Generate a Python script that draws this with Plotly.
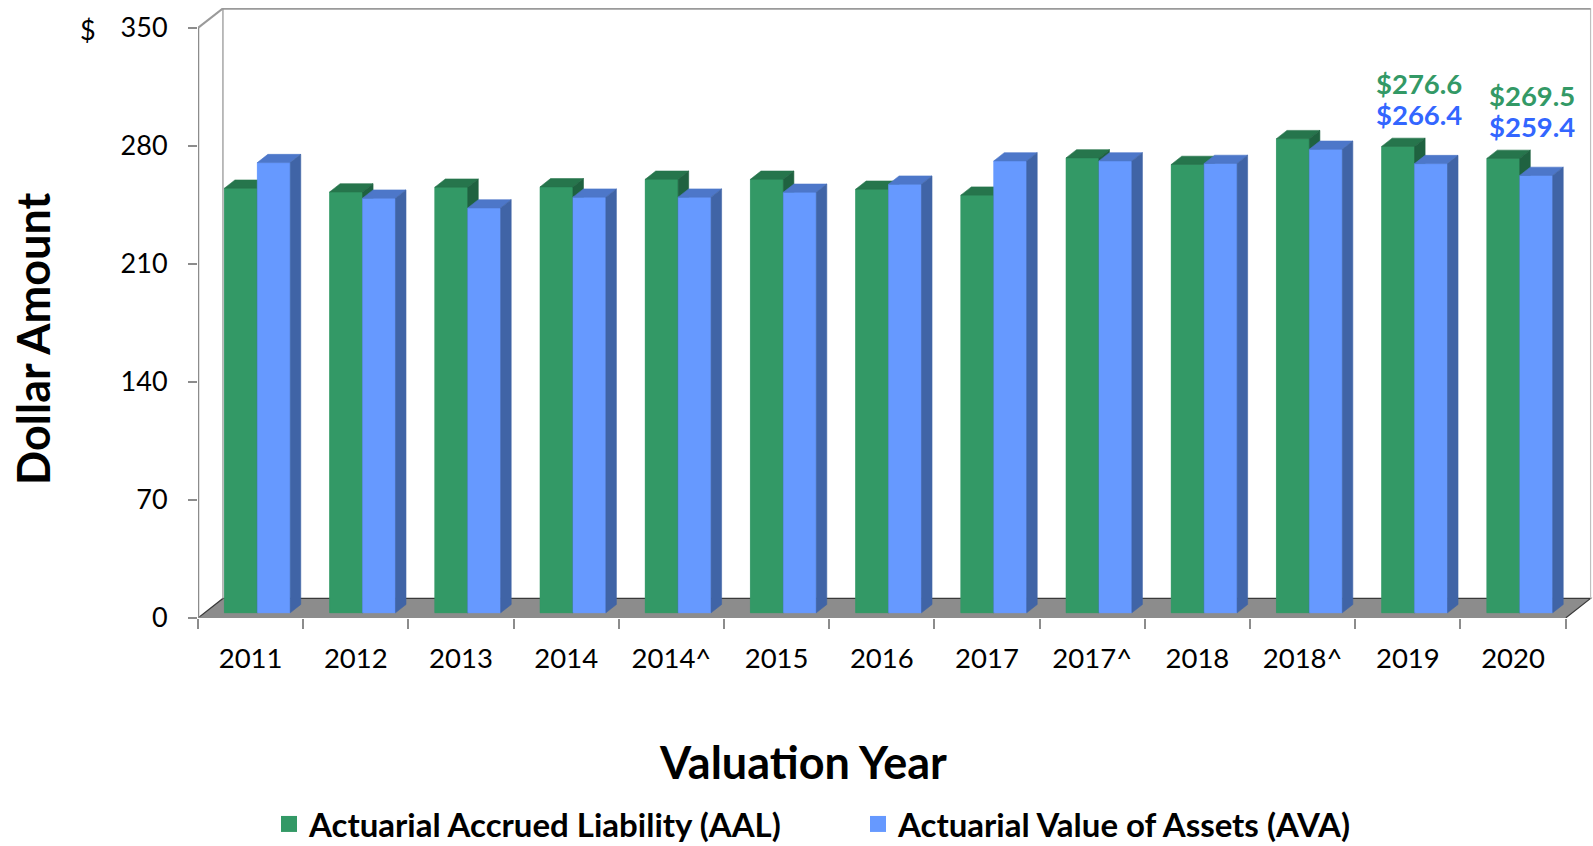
import plotly.graph_objects as go

# ---------------- data ----------------
categories = ["2011", "2012", "2013", "2014", "2014^", "2015", "2016",
              "2017", "2017^", "2018", "2018^", "2019", "2020"]
aal = [251.8, 249.6, 252.4, 252.6, 257.1, 257.1, 251.2,
       247.7, 269.8, 265.9, 281.2, 276.6, 269.5]
ava = [267.0, 245.9, 240.1, 246.5, 246.5, 249.4, 254.2,
       268.0, 268.0, 266.5, 274.9, 266.4, 259.4]
labeled_years = ["2019", "2020"]
y_ticks = [0, 70, 140, 210, 280, 350]
series_names = ["Actuarial Accrued Liability (AAL)", "Actuarial Value of Assets (AVA)"]

# ---------------- layout / style constants ----------------
W, H = 1593, 846
ML, MR, MT, MB = 198, 0, 8, 228
PW, PH = W - ML - MR, H - MT - MB
XR = [-0.5, 12.76]
YR = [0, 361.8]
FONT = "Lato"

WALL_DX, WALL_DY = 0.237, 11.6      # depth of the 3D box
BAR_W = 0.313
BAR_SHIFT = 0.064
BAR_BASE = 3.1
BAR_DX, BAR_DY = 0.1, 4.9           # depth of each bar
LABEL_DX = [0.11, 0.18]             # horizontal nudge of the value labels

GREEN, GREEN_TOP, GREEN_SIDE = "#339966", "#26754c", "#1f6240"
BLUE, BLUE_TOP, BLUE_SIDE = "#6699ff", "#4d77c9", "#4064a6"
GRID_GRAY = "#8c8c8c"
LABEL_GREEN, LABEL_BLUE = "#339966", "#3366ff"


def px_x(p):
    return (p - ML) / PW


def px_y(p):
    return (H - MB - p) / PH


n = len(categories)
xpos = list(range(n))


def faces(values, left_offset):
    front_x, front_y, top_x, top_y, side_x, side_y = [], [], [], [], [], []
    for i, v in zip(xpos, values):
        xl = i + BAR_SHIFT + left_offset
        xr = xl + BAR_W
        b = BAR_BASE
        t = BAR_BASE + v
        front_x += [xl, xr, xr, xl, xl, None]
        front_y += [b, b, t, t, b, None]
        top_x += [xl, xr, xr + BAR_DX, xl + BAR_DX, xl, None]
        top_y += [t, t, t + BAR_DY, t + BAR_DY, t, None]
        side_x += [xr, xr, xr + BAR_DX, xr + BAR_DX, xr, None]
        side_y += [b, t, t + BAR_DY, b + BAR_DY, b, None]
    return (front_x, front_y), (top_x, top_y), (side_x, side_y)


def poly(xy, color):
    return go.Scatter(x=xy[0], y=xy[1], mode="lines", fill="toself",
                      fillcolor=color, line=dict(width=0.6, color=color),
                      hoverinfo="skip", showlegend=False)


fig = go.Figure()

# base bars (front faces) through the bar trace
fig.add_trace(go.Bar(x=[i + BAR_SHIFT for i in xpos], y=aal, base=BAR_BASE,
                     width=BAR_W, offset=-BAR_W, marker=dict(color=GREEN, line=dict(width=0)),
                     name=series_names[0], showlegend=False))
fig.add_trace(go.Bar(x=[i + BAR_SHIFT for i in xpos], y=ava, base=BAR_BASE,
                     width=BAR_W, offset=0, marker=dict(color=BLUE, line=dict(width=0)),
                     name=series_names[1], showlegend=False))

# 3D shading in painter order
gf, gt, gs = faces(aal, -BAR_W)
bf, bt, bs = faces(ava, 0)
for xy, c in [(gf, GREEN), (gt, GREEN_TOP), (gs, GREEN_SIDE),
              (bf, BLUE), (bt, BLUE_TOP), (bs, BLUE_SIDE)]:
    fig.add_trace(poly(xy, c))

# legend entries
for name, c in zip(series_names, [GREEN, BLUE]):
    fig.add_trace(go.Scatter(x=[None], y=[None], mode="markers", name=name,
                             marker=dict(symbol="square", size=16, color=c)))

# ---------------- 3D box (floor and walls) ----------------
x0, x1 = XR[0], n - 0.5
ytop = y_ticks[-1]
shapes = [
    dict(type="path", xref="x", yref="y", layer="below",
         path=f"M{x0},0 L{x1},0 L{x1 + WALL_DX},{WALL_DY} L{x0 + WALL_DX},{WALL_DY} Z",
         fillcolor=GRID_GRAY, line=dict(color="#3a3a3a", width=1.2)),
    dict(type="line", xref="x", yref="y", layer="below", x0=x0 + WALL_DX, x1=x0 + WALL_DX,
         y0=WALL_DY, y1=ytop + WALL_DY, line=dict(color="#a6a6a6", width=1.5)),
    dict(type="line", xref="x", yref="y", layer="below", x0=x1 + WALL_DX, x1=x1 + WALL_DX,
         y0=WALL_DY, y1=ytop + WALL_DY, line=dict(color="#bfbfbf", width=1.2)),
    dict(type="line", xref="x", yref="y", layer="below", x0=x0 + WALL_DX, x1=x1 + WALL_DX,
         y0=ytop + WALL_DY, y1=ytop + WALL_DY, line=dict(color="#9a9a9a", width=3)),
    dict(type="line", xref="x", yref="y", layer="below", x0=x0, x1=x0 + WALL_DX,
         y0=ytop, y1=ytop + WALL_DY, line=dict(color="#9a9a9a", width=2)),
    dict(type="line", xref="x", yref="y", layer="above", x0=x0, x1=x0,
         y0=0, y1=ytop, line=dict(color=GRID_GRAY, width=2.5)),
    dict(type="line", xref="x", yref="y", layer="above", x0=x0, x1=x1,
         y0=0, y1=0, line=dict(color=GRID_GRAY, width=2.5)),
]

# ---------------- annotations ----------------
annotations = [
    dict(text="$", xref="paper", yref="paper", x=px_x(88), y=px_y(30),
         xanchor="center", yanchor="middle",
         showarrow=False, font=dict(family=FONT, size=27, color="black")),
    dict(text="<b>Dollar Amount</b>", xref="paper", yref="paper", x=px_x(33), y=px_y(339),
         xanchor="center", yanchor="middle",
         textangle=-90, showarrow=False, font=dict(family=FONT, size=45, color="black")),
    dict(text="<b>Valuation Year</b>", xref="paper", yref="paper", x=px_x(803), y=px_y(762),
         xanchor="center", yanchor="middle",
         showarrow=False, font=dict(family=FONT, size=45, color="black")),
]
for yr, dx in zip(labeled_years, LABEL_DX):
    i = categories.index(yr)
    top = BAR_BASE + max(aal[i], ava[i])
    annotations.append(dict(text=f"<b>${aal[i]:.1f}</b>", x=i + dx, y=top, xref="x", yref="y",
                            yshift=63, showarrow=False,
                            font=dict(family=FONT, size=27.5, color=LABEL_GREEN)))
    annotations.append(dict(text=f"<b>${ava[i]:.1f}</b>", x=i + dx, y=top, xref="x", yref="y",
                            yshift=32, showarrow=False,
                            font=dict(family=FONT, size=27.5, color=LABEL_BLUE)))

fig.update_layout(
    width=W, height=H,
    margin=dict(l=ML, r=MR, t=MT, b=MB, autoexpand=False),
    paper_bgcolor="white", plot_bgcolor="white",
    barmode="overlay",
    showlegend=True,
    legend=dict(orientation="h", x=px_x(269), y=px_y(824), xanchor="left", yanchor="middle",
                font=dict(family=FONT, size=33, color="black", weight="bold"), entrywidth=544,
                entrywidthmode="pixels", bgcolor="rgba(0,0,0,0)"),
    xaxis=dict(range=XR, showgrid=False, zeroline=False, showline=False,
               tickmode="array", tickvals=xpos, ticktext=categories, ticks="",
               ticklabelstandoff=21,
               tickfont=dict(family=FONT, size=27.5, color="black"),
               minor=dict(ticks="outside", tickvals=[i - 0.5 for i in range(n + 1)],
                          ticklen=10, tickcolor=GRID_GRAY, tickwidth=2)),
    yaxis=dict(range=YR, showgrid=False, zeroline=False, showline=False,
               tickmode="array", tickvals=y_ticks, ticks="outside", ticklen=9,
               tickcolor=GRID_GRAY, tickwidth=2, ticklabelstandoff=15,
               tickfont=dict(family=FONT, size=27, color="black")),
    shapes=shapes,
    annotations=annotations,
)

fig.write_html("out.html", config={"displayModeBar": False},
               post_script="document.body.style.margin='0';document.body.style.overflow='hidden';")
